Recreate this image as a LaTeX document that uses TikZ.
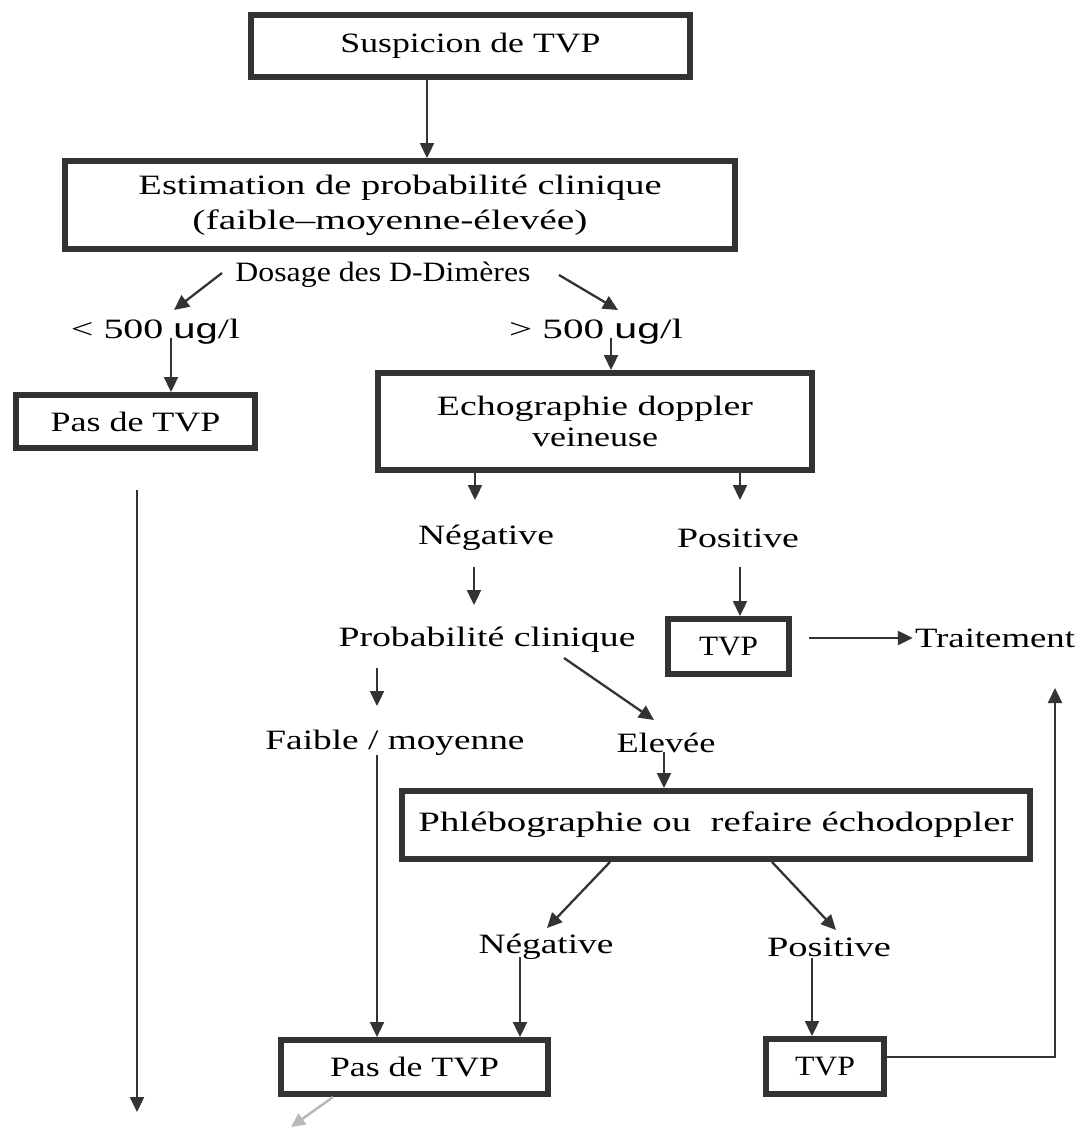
\documentclass[tikz,border=0pt]{standalone}
\usepackage{fontspec}
\setmainfont{Liberation Serif}
\setsansfont{Liberation Sans}
\usepackage{graphicx}
\usetikzlibrary{arrows.meta,calc}
\definecolor{ink}{HTML}{333333}
\newcommand{\sx}[2]{\resizebox{#1pt}{\height}{#2}}
\begin{document}
\begin{tikzpicture}[x=1pt,y=-1pt,
  box/.style={draw=ink,line width=6pt,fill=white,inner sep=0pt,align=center,
    font=\fontsize{28}{34}\selectfont},
  lbl/.style={inner sep=0pt,font=\fontsize{28}{32}\selectfont},
  arr/.style={draw=ink,line width=2.3pt,-{Triangle[length=15pt,width=14pt]}},
  faint/.style={draw=gray!55,line width=2.5pt,-{Triangle[length=14pt,width=13pt]}}]
\useasboundingbox[fill=white] (0,0) rectangle (1083,1129);

% boxes
\node[box,minimum width=439pt,minimum height=62pt] (b1) at (470.5,46) {\sx{260}{Suspicion de TVP}};
\node[box,minimum width=670pt,minimum height=88pt] (b2) at (400,205)
  {\sx{523}{Estimation de probabilité clinique}\\[1pt]\hspace*{-20pt}\sx{395}{(faible–moyenne-élevée)}};
\node[box,minimum width=239pt,minimum height=53pt] (pas1) at (135.5,421.5) {\sx{170}{Pas de TVP}};
\node[box,minimum width=434pt,minimum height=97pt] (echo) at (595,421.5)
  {\sx{316}{Echographie doppler}\\[-3pt]\sx{126}{veineuse}};
\node[box,minimum width=121pt,minimum height=55pt] (tvp1) at (728.5,646.5) {\sx{59}{TVP}};
\node[box,minimum width=628pt,minimum height=68pt] (phlebo) at (716,825)
  {\sx{595}{Phlébographie ou \ refaire échodoppler}};
\node[box,minimum width=267pt,minimum height=54pt] (pas2) at (414.5,1067) {\sx{169}{Pas de TVP}};
\node[box,minimum width=118pt,minimum height=55pt] (tvp2) at (825,1066.5) {\sx{60}{TVP}};

% labels
\node[lbl] (dos) at (383,275) {\sx{295}{Dosage des D-Dimères}};
\node[lbl] (lt) at (155.5,332) {\sx{169}{< 500 {\sffamily ug}/l}};
\node[lbl] (gt) at (596,332) {\sx{174}{> 500 {\sffamily ug}/l}};
\node[lbl] (neg1) at (486,538) {\sx{136}{Négative}};
\node[lbl] (pos1) at (738,538) {\sx{122}{Positive}};
\node[lbl] (prob) at (487,640) {\sx{297}{Probabilité clinique}};
\node[lbl] (trait) at (995,638) {\sx{160}{Traitement}};
\node[lbl] (faible) at (395,743) {\sx{259}{Faible / moyenne}};
\node[lbl] (elev) at (666,743) {\sx{99}{Elevée}};
\node[lbl] (neg2) at (546,947) {\sx{135}{Négative}};
\node[lbl] (pos2) at (829,947) {\sx{124}{Positive}};

% helper coordinates
\coordinate (end1) at (137,1112);
\coordinate (end2) at (291,1127);
\path ($(lt.center)+(15.5,6)$) coordinate (lt-s);
\path ($(gt.center)+(15,6)$) coordinate (gt-s);
\path ($(faible.center)+(-18,12)$) coordinate (fa-s);
\path ($(elev.center)+(-2,9)$) coordinate (el-s);
\path ($(neg2.center)+(-26,10)$) coordinate (ng-s);
\path ($(pos2.center)+(-17,11)$) coordinate (ps-s);

% connectors
\draw[arr] ([xshift=-43.5pt]b1.south) -- ([xshift=-43.5pt]b1.south |- b2.north);
\draw[arr] ($(dos.center)+(-161,-2)$) -- ($(lt.center)+(18.5,-22)$);
\draw[arr] ($(dos.center)+(176,0)$) -- ($(gt.center)+(22,-22)$);
\draw[arr] (lt-s) -- (lt-s |- pas1.north);
\draw[arr] (gt-s) -- (gt-s |- echo.north);
\draw[arr] ([xshift=-120pt]echo.south) -- ($(neg1.center)+(-11,-38)$);
\draw[arr] ([xshift=145pt]echo.south) -- ($(pos1.center)+(2,-38)$);
\draw[arr] ($(neg1.center)+(-12,29)$) -- ($(prob.center)+(-13,-35)$);
\draw[arr] ($(pos1.center)+(2,29)$) -- ([xshift=11.5pt]tvp1.north);
\draw[arr] ($(tvp1.east)+(17,-8.5)$) -- ($(trait.west)+(-2,0)$);
\draw[arr] ($(prob.center)+(-110,28)$) -- ($(faible.center)+(-18,-37)$);
\draw[arr] ($(prob.center)+(77,18)$) -- ($(elev.center)+(-12,-23)$);
\draw[arr] (fa-s) -- (fa-s |- pas2.north);
\draw[arr] (el-s) -- (el-s |- phlebo.north);
\draw[arr] ([xshift=-106pt]phlebo.south) -- ($(neg2.center)+(1,-19)$);
\draw[arr] ([xshift=56pt]phlebo.south) -- ($(pos2.center)+(7,-17)$);
\draw[arr] (ng-s) -- (ng-s |- pas2.north);
\draw[arr] (ps-s) -- (ps-s |- tvp2.north);
\draw[arr] ($(tvp2.east)+(0,-9.5)$) -| ($(trait.center)+(60,50)$);
\draw[arr] ($(pas1.south)+(1.5,39)$) -- (end1);
\draw[faint] ($(pas2.south)+(-81.5,0)$) -- (end2);
\end{tikzpicture}
\end{document}
